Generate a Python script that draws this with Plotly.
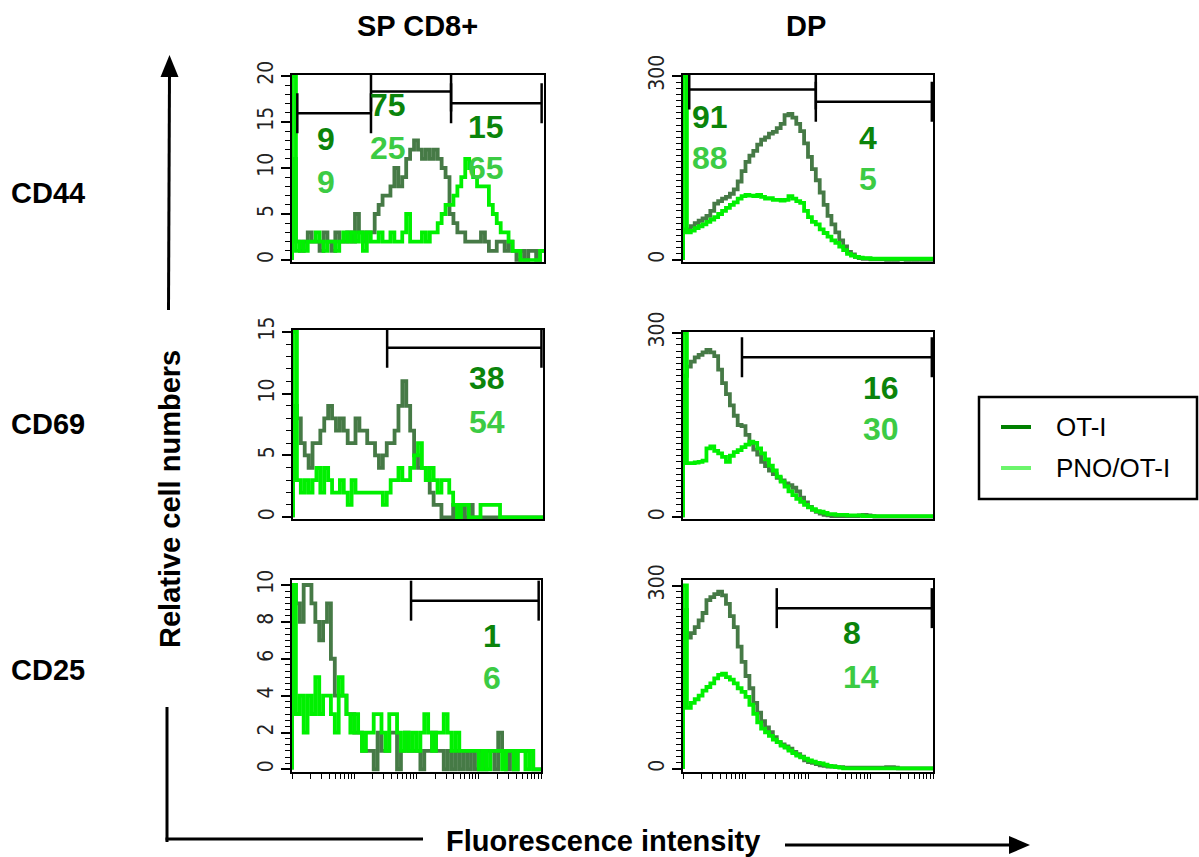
import math
import plotly.graph_objects as go

W, H = 1199, 857
FONT = "Liberation Sans, Arial, Helvetica, sans-serif"
TICK_FONT = "Liberation Sans Narrow, Arial Narrow, DejaVu Sans Condensed, Liberation Sans, Arial, sans-serif"

# ---------------------------------------------------------------------------
# Histogram counts, 64 log-spaced fluorescence channels spanning 4 decades
# ---------------------------------------------------------------------------
N_CH = 64
DECADES = 4

series_names = ["OT-I", "PNO/OT-I"]
row_labels = ["CD44", "CD69", "CD25"]
col_labels = ["SP CD8+", "DP"]

sp_cd44_oti = [11, 2, 1, 2, 3, 2, 2, 1, 3, 2, 1, 3, 2, 2, 3, 2, 5, 3, 2, 3,
               3, 5, 6, 7, 7, 8, 10, 8, 9, 11, 12, 13, 12, 11, 12, 11, 12, 11, 10, 9,
               5, 4, 3, 3, 2, 2, 2, 2, 3, 2, 1, 1, 2, 2, 1, 2, 1, 0, 1, 0,
               1, 1, 0, 1]
sp_cd44_pno = [20, 1, 2, 1, 2, 2, 3, 2, 1, 2, 2, 1, 2, 3, 2, 3, 2, 3, 1, 3,
               2, 2, 3, 2, 2, 3, 2, 2, 3, 5, 2, 2, 2, 3, 2, 3, 3, 4, 5, 6,
               6, 7, 8, 9, 11, 10, 9, 8, 8, 8, 6, 5, 4, 3, 3, 2, 1, 1, 0, 0,
               0, 0, 0, 1]

dp_cd44_oti = [50, 50, 55, 60, 64, 68, 72, 80, 92, 96, 100, 103, 108, 115, 128, 145, 160, 170, 178, 188,
               196, 200, 206, 209, 215, 222, 236, 238, 232, 222, 210, 190, 168, 148, 130, 110, 90, 72, 58, 45,
               32, 22, 13, 9, 5, 3, 2, 2, 1, 1, 1, 1, 0, 1, 0, 1, 1, 0, 1, 0,
               1, 0, 0, 0]
dp_cd44_pno = [300, 45, 48, 52, 55, 58, 62, 66, 70, 75, 80, 85, 90, 94, 100, 104, 106, 105, 104, 106,
               103, 100, 101, 98, 98, 97, 98, 104, 100, 96, 93, 80, 70, 62, 58, 50, 44, 38, 32, 28,
               22, 16, 10, 7, 5, 4, 3, 3, 2, 2, 2, 2, 2, 2, 2, 2, 2, 2, 2, 2,
               2, 2, 2, 2]

sp_cd69_oti = [9, 8, 6, 5, 4, 6, 6, 7, 8, 9, 8, 7, 8, 7, 6, 6, 8, 7, 7, 6,
               6, 5, 4, 5, 6, 6, 7, 9, 11, 9, 7, 5, 4, 4, 3, 2, 1, 1, 0, 0,
               0, 1, 0, 1, 0, 1, 0, 0, 0, 0, 0, 0, 0, 0, 0, 0, 0, 0, 0, 0,
               0, 0, 0, 0]
sp_cd69_pno = [15, 3, 2, 3, 2, 3, 4, 2, 4, 3, 2, 2, 3, 2, 1, 3, 2, 2, 2, 2,
               2, 2, 2, 1, 2, 3, 3, 4, 3, 3, 4, 5, 6, 4, 3, 4, 3, 2, 3, 3,
               2, 1, 0, 1, 1, 0, 0, 0, 1, 1, 1, 1, 1, 0, 0, 0, 0, 0, 0, 0,
               0, 0, 0, 0]

dp_cd69_oti = [230, 245, 253, 260, 264, 268, 272, 268, 262, 240, 218, 200, 182, 165, 150, 148, 134, 120, 110, 102,
               90, 83, 76, 70, 64, 60, 55, 52, 48, 42, 32, 24, 17, 12, 9, 6, 4, 3, 2, 2,
               2, 2, 2, 2, 2, 3, 4, 3, 2, 1, 1, 1, 1, 1, 1, 1, 1, 1, 1, 1,
               1, 1, 1, 1]
dp_cd69_pno = [300, 88, 88, 89, 90, 92, 112, 115, 108, 104, 98, 90, 100, 106, 109, 114, 118, 123, 121, 112,
               104, 94, 84, 76, 66, 58, 50, 42, 36, 30, 25, 20, 16, 13, 10, 9, 7, 5, 5, 4,
               4, 4, 3, 3, 3, 3, 2, 2, 2, 2, 2, 2, 2, 2, 2, 2, 2, 2, 2, 2,
               2, 2, 2, 2]

sp_cd25_oti = [10, 9, 8, 10, 10, 9, 8, 7, 8, 9, 6, 4, 4, 4, 3, 3, 2, 2, 1, 1,
               1, 0, 2, 1, 1, 2, 2, 0, 1, 2, 1, 1, 1, 0, 1, 1, 2, 1, 1, 0,
               1, 0, 1, 0, 1, 0, 1, 0, 1, 0, 1, 1, 0, 2, 1, 0, 1, 0, 1, 1,
               1, 1, 0, 0]
sp_cd25_pno = [10, 3, 4, 2, 4, 3, 5, 3, 4, 4, 3, 2, 5, 4, 3, 2, 3, 2, 1, 2,
               2, 3, 3, 2, 1, 3, 3, 2, 1, 2, 1, 2, 1, 2, 3, 2, 1, 2, 2, 3,
               2, 1, 2, 1, 1, 1, 1, 1, 0, 1, 0, 1, 1, 1, 0, 1, 1, 0, 1, 1,
               0, 1, 0, 0]

dp_cd25_oti = [260, 215, 222, 232, 243, 255, 276, 281, 286, 290, 284, 270, 250, 232, 200, 175, 152, 132, 108, 92,
               78, 68, 60, 52, 44, 40, 37, 33, 28, 24, 20, 14, 11, 10, 8, 6, 5, 4, 4, 3,
               3, 2, 2, 2, 2, 2, 2, 2, 2, 2, 2, 2, 3, 3, 2, 1, 1, 1, 1, 1,
               1, 1, 1, 1]
dp_cd25_pno = [300, 100, 108, 114, 120, 128, 134, 140, 148, 154, 156, 150, 146, 140, 132, 126, 118, 105, 90, 76,
               66, 60, 54, 48, 44, 38, 35, 30, 26, 22, 19, 17, 14, 12, 10, 9, 7, 5, 4, 3,
               2, 1, 1, 1, 1, 1, 1, 1, 1, 1, 1, 1, 1, 1, 1, 1, 1, 1, 1, 1,
               1, 1, 1, 1]

# Gates: (first channel, last channel, marker level in counts)
gates_sp_cd44 = [(1.35, 20.06, 15.95), (20.06, 40.4, 18.3), (40.4, 63.4, 17.03)]
gates_dp_cd44 = [(1.6, 34.0, 278), (34.0, 63.7, 258)]
gates_sp_cd69 = [(24.1, 63.6, 13.7)]
gates_dp_cd69 = [(15.1, 63.7, 260)]
gates_sp_cd25 = [(30.6, 63.4, 9.15)]
gates_dp_cd25 = [(24.0, 63.7, 263)]

# Percent of cells inside each gate
pct_sp_cd44_oti, pct_sp_cd44_pno = [9, 75, 15], [9, 25, 65]
pct_dp_cd44_oti, pct_dp_cd44_pno = [91, 4], [88, 5]
pct_sp_cd69_oti, pct_sp_cd69_pno = [38], [54]
pct_dp_cd69_oti, pct_dp_cd69_pno = [16], [30]
pct_sp_cd25_oti, pct_sp_cd25_pno = [1], [6]
pct_dp_cd25_oti, pct_dp_cd25_pno = [8], [14]

# ---------------------------------------------------------------------------
# Styling
# ---------------------------------------------------------------------------
OTI_LINE = "#467a46"
PNO_LINE = "#00f000"
OTI_TEXT = "#0b840b"
PNO_TEXT = "#3ccb44"
OTI_KEY = "#008000"
PNO_KEY = "#6cf56c"
CURVE_WIDTH = 3.8

panels = [
    dict(oti=sp_cd44_oti, pno=sp_cd44_pno, yticks=[0, 5, 10, 15, 20], minor=1,
         gates=gates_sp_cd44, pct=(pct_sp_cd44_oti, pct_sp_cd44_pno)),
    dict(oti=dp_cd44_oti, pno=dp_cd44_pno, yticks=[0, 300], minor=10,
         gates=gates_dp_cd44, pct=(pct_dp_cd44_oti, pct_dp_cd44_pno)),
    dict(oti=sp_cd69_oti, pno=sp_cd69_pno, yticks=[0, 5, 10, 15], minor=1,
         gates=gates_sp_cd69, pct=(pct_sp_cd69_oti, pct_sp_cd69_pno)),
    dict(oti=dp_cd69_oti, pno=dp_cd69_pno, yticks=[0, 300], minor=10,
         gates=gates_dp_cd69, pct=(pct_dp_cd69_oti, pct_dp_cd69_pno)),
    dict(oti=sp_cd25_oti, pno=sp_cd25_pno, yticks=[0, 2, 4, 6, 8, 10], minor=1 / 3,
         gates=gates_sp_cd25, pct=(pct_sp_cd25_oti, pct_sp_cd25_pno)),
    dict(oti=dp_cd25_oti, pno=dp_cd25_pno, yticks=[0, 300], minor=10,
         gates=gates_dp_cd25, pct=(pct_dp_cd25_oti, pct_dp_cd25_pno)),
]

# Plot boxes in pixels: left, right, top, bottom, y-range low, y-range high
boxes = [
    (292, 544, 75, 261.7, -0.18, 20.1),
    (683, 933, 75, 261.7, -2.8, 301.6),
    (293, 543, 330, 519.3, -0.16, 15.14),
    (683, 933, 331.7, 519.3, -3.3, 301.6),
    (292, 541, 580, 772, -0.14, 10.27),
    (683, 933, 580, 772, -5, 309),
]

# Percent labels: (left x, y of OT-I value, y of PNO/OT-I value) for each gate
label_pos = [
    [(315, 139.3, 181.7), (368, 105, 148), (466, 126.7, 168.3)],
    [(690, 116.7, 158), (857, 138, 179.3)],
    [(467, 378.3, 421.7)],
    [(861, 388.3, 428.7)],
    [(481, 636.3, 678.3)],
    [(841, 633.3, 676.7)],
]

GATE_TICK_PX = 20


def px(x):
    return x / W


def py(y):
    return 1 - y / H


fig = go.Figure()
layout = dict(
    width=W, height=H, margin=dict(l=0, r=0, t=0, b=0, pad=0, autoexpand=False),
    paper_bgcolor="white", plot_bgcolor="white", showlegend=False,
    font=dict(family=FONT, color="black"),
)
shapes = []
annotations = []

chan_edges = list(range(N_CH))
log_ticks = [N_CH / DECADES * (d + math.log10(m)) for d in range(DECADES) for m in range(1, 10)] + [N_CH]

for k, (p, box) in enumerate(zip(panels, boxes), start=1):
    sfx = "" if k == 1 else str(k)
    xa, ya = "x" + sfx, "y" + sfx
    x0, x1, ytop, ybot, lo, hi = box
    bottom_row = k >= 5

    for values, color in ((p["oti"], OTI_LINE), (p["pno"], PNO_LINE)):
        fig.add_trace(go.Scatter(
            x=[0] + chan_edges + [N_CH], y=[0] + values + [values[-1]],
            mode="lines", line=dict(color=color, width=CURVE_WIDTH, shape="hv"),
            xaxis=xa, yaxis=ya, hoverinfo="skip",
        ))

    layout["xaxis" + sfx] = dict(
        domain=[px(x0), px(x1)], range=[0, N_CH], anchor=ya, automargin=False,
        showline=True, mirror=True, linecolor="black", linewidth=2,
        showgrid=False, zeroline=False, showticklabels=False,
        ticks="outside" if bottom_row else "", tickmode="array",
        tickvals=log_ticks if bottom_row else [], ticklen=5, tickwidth=1.2,
        tickcolor="black", fixedrange=True,
    )
    layout["yaxis" + sfx] = dict(
        domain=[py(ybot), py(ytop)], range=[lo, hi], anchor=xa, automargin=False,
        showline=True, mirror=True, linecolor="black", linewidth=2,
        showgrid=False, zeroline=False,
        ticks="outside", tickmode="array", tickvals=p["yticks"],
        ticklen=9, tickwidth=1.5, tickcolor="black", tickangle=-90,
        tickfont=dict(family=TICK_FONT, size=21, color="#222222"),
        minor=dict(ticks="outside", ticklen=5, tickwidth=1.2, tickcolor="black",
                   tick0=0, dtick=p["minor"], showgrid=False),
        fixedrange=True,
    )

    # gate markers: bar with a short vertical tick at each end
    half = GATE_TICK_PX * (hi - lo) / (ybot - ytop)
    for g0, g1, level in p["gates"]:
        shapes.append(dict(type="line", xref=xa, yref=ya, x0=g0, x1=g1, y0=level, y1=level,
                           line=dict(color="black", width=2.5)))
        for gx in (g0, g1):
            shapes.append(dict(type="line", xref=xa, yref=ya, x0=gx, x1=gx,
                               y0=level - half, y1=min(level + half, hi),
                               line=dict(color="black", width=2.5)))

    pct_oti, pct_pno = p["pct"]
    for (lx, ly_oti, ly_pno), v_oti, v_pno in zip(label_pos[k - 1], pct_oti, pct_pno):
        for ly, v, c in ((ly_oti, v_oti, OTI_TEXT), (ly_pno, v_pno, PNO_TEXT)):
            annotations.append(dict(
                xref="paper", yref="paper", x=px(lx), y=py(ly), xanchor="left", yanchor="middle",
                text=str(v), showarrow=False,
                font=dict(family=FONT, size=32, color=c, weight="bold"),
            ))

# column and row headings
for text, cx in zip(col_labels, (417, 805.5)):
    annotations.append(dict(xref="paper", yref="paper", x=px(cx), y=py(26), text=text,
                            showarrow=False, xanchor="center", yanchor="middle",
                            font=dict(family=FONT, size=29, weight="bold")))
for text, cy in zip(row_labels, (193, 424, 670)):
    annotations.append(dict(xref="paper", yref="paper", x=px(48), y=py(cy), text=text,
                            showarrow=False, xanchor="center", yanchor="middle",
                            font=dict(family=FONT, size=29, weight="bold")))

# outer axis titles with arrows
annotations.append(dict(xref="paper", yref="paper", x=px(170), y=py(499), text="Relative cell numbers",
                        textangle=-90, showarrow=False, xanchor="center", yanchor="middle",
                        font=dict(family=FONT, size=29, weight="bold")))
annotations.append(dict(xref="paper", yref="paper", x=px(603), y=py(841), text="Fluorescence intensity",
                        showarrow=False, xanchor="center", yanchor="middle",
                        font=dict(family=FONT, size=29, weight="bold")))

arrow_line = dict(color="black", width=3)
shapes += [
    dict(type="line", xref="paper", yref="paper", x0=px(168.5), y0=py(310), x1=px(169.5), y1=py(72),
         line=arrow_line),
    dict(type="path", xref="paper", yref="paper",
         path=f"M {px(169.5)},{py(55)} L {px(160.5)},{py(77)} L {px(178.5)},{py(77)} Z",
         fillcolor="black", line=dict(color="black", width=0)),
    dict(type="line", xref="paper", yref="paper", x0=px(167), y0=py(707), x1=px(167), y1=py(842),
         line=arrow_line),
    dict(type="line", xref="paper", yref="paper", x0=px(165.5), y0=py(839), x1=px(423), y1=py(839),
         line=arrow_line),
    dict(type="line", xref="paper", yref="paper", x0=px(785), y0=py(845), x1=px(1012), y1=py(845),
         line=arrow_line),
    dict(type="path", xref="paper", yref="paper",
         path=f"M {px(1030)},{py(845)} L {px(1009)},{py(836)} L {px(1009)},{py(854)} Z",
         fillcolor="black", line=dict(color="black", width=0)),
]

# legend box
shapes.append(dict(type="rect", xref="paper", yref="paper", x0=px(979), x1=px(1197), y0=py(499), y1=py(397),
                   line=dict(color="black", width=2.5), fillcolor="rgba(0,0,0,0)"))
for name, color, ky in zip(series_names, (OTI_KEY, PNO_KEY), (427, 468)):
    shapes.append(dict(type="line", xref="paper", yref="paper", x0=px(1001), x1=px(1031), y0=py(ky), y1=py(ky),
                       line=dict(color=color, width=4)))
    annotations.append(dict(xref="paper", yref="paper", x=px(1054), y=py(ky), text=name, showarrow=False,
                            xanchor="left", yanchor="middle", font=dict(family=FONT, size=26, color="black")))

layout["shapes"] = shapes
layout["annotations"] = annotations
fig.update_layout(**layout)
fig.write_html("out.html")
